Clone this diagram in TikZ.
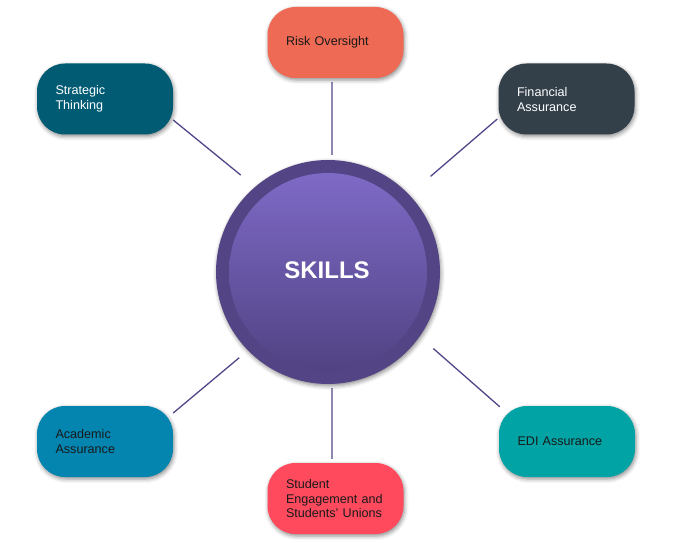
\documentclass[tikz,border=0pt]{standalone}
\usepackage{fontspec}
\setmainfont{Liberation Sans}
\usetikzlibrary{calc,shadows.blur}
\definecolor{cRisk}{HTML}{EE6A54}
\definecolor{cStrat}{HTML}{015B73}
\definecolor{cFin}{HTML}{333F49}
\definecolor{cAcad}{HTML}{0385B0}
\definecolor{cStud}{HTML}{FF4A5E}
\definecolor{cEdi}{HTML}{02A3A5}
\definecolor{cRing}{HTML}{534486}
\definecolor{cTop}{HTML}{7E6AC6}
\definecolor{cMid}{HTML}{5A4A91}
\definecolor{cBot}{HTML}{514283}
\definecolor{cLine}{HTML}{4E478A}
\definecolor{cDark}{HTML}{1A1A1A}
\tikzset{
  skillbox/.style={rectangle, rounded corners=28pt, minimum width=136pt, minimum height=71pt,
    text width=99pt, inner xsep=18.5pt, align=left, font=\fontsize{12.6}{15}\selectfont,
    blur shadow={shadow xshift=1pt, shadow yshift=-2pt, shadow blur radius=4pt, shadow opacity=45}},
  conn/.style={draw=cLine, line width=1.3pt}
}
\begin{document}
\begin{tikzpicture}[x=1pt,y=-1pt]
\useasboundingbox (0,0) rectangle (681,543);
% centre
\node[circle, fill=cRing, minimum size=224pt, inner sep=0pt,
  blur shadow={shadow xshift=1pt, shadow yshift=-2pt, shadow blur radius=4pt, shadow opacity=45}] (skills) at (328,272) {};
\node[circle, minimum size=198pt, inner sep=0pt, top color=cTop, middle color=cMid, bottom color=cBot] (inner) at (skills.center) {};
\node[text=white, font=\fontsize{24}{28}\selectfont\bfseries] (lbl) at (327,270) {SKILLS};
% boxes
\node[skillbox, fill=cRisk, text=cDark] (risk) at (335.5,42.5) {Risk Oversight};
\node[skillbox, fill=cStrat, text=white] (strat) at (105,99) {Strategic\\Thinking};
\node[skillbox, fill=cFin, text=white] (fin) at (566.5,99) {Financial\\Assurance};
\node[skillbox, fill=cAcad, text=cDark] (acad) at (105,441.5) {Academic\\Assurance};
\node[skillbox, fill=cStud, text=cDark, font=\fontsize{12.6}{14.2}\selectfont] (stud) at (335.5,498.5) {Student\\Engagement and\\Students' Unions};
\node[skillbox, fill=cEdi, text=cDark] (edi) at (567,441.5) {EDI Assurance};
% connectors
\draw[conn] ([xshift=-3.5pt,yshift=-4pt]risk.south) -- ($(skills.center)!1.045!(skills.88)$);
\draw[conn] ([yshift=-21pt]strat.east) -- ($(skills.center)!1.163!(skills.132.5)$);
\draw[conn] ([xshift=-1pt,yshift=-20pt]fin.west) -- ($(skills.center)!1.25!(skills.43.3)$);
\draw[conn] ([yshift=28.5pt]acad.east) -- ($(skills.center)!1.10!(skills.224.3)$);
\draw[conn] ([xshift=-3.5pt,yshift=4pt]stud.north) -- ($(skills.center)!1.036!(skills.272)$);
\draw[conn] ([xshift=1pt,yshift=-1pt]edi.north west) -- ($(skills.center)!1.16!(skills.-36.3)$);
\end{tikzpicture}
\end{document}
